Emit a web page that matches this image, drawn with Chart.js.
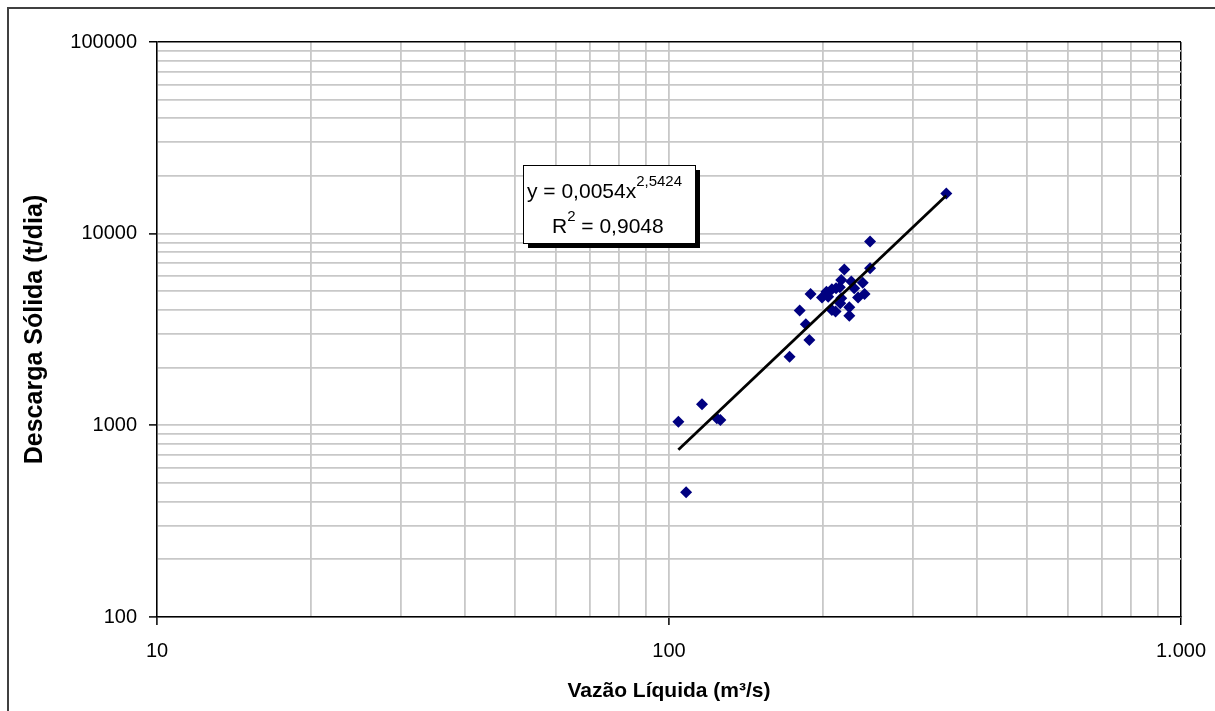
<!DOCTYPE html>
<html><head><meta charset="utf-8">
<script src="https://cdn.jsdelivr.net/npm/chart.js@4.4.1/dist/chart.umd.min.js"></script>
<style>html,body{margin:0;padding:0;background:#fff}canvas{display:block}</style>
</head><body>
<canvas id="c" width="1215" height="711"></canvas>
<script>
// Observed data (Vazão Líquida m³/s vs Descarga Sólida t/dia)
const vazao = [348, 247, 247, 220, 217, 227, 239, 230, 208, 203, 189, 199, 212, 217, 234, 241, 216, 225, 208, 211.5, 225, 180, 185, 188, 172, 116, 124, 126, 104.3, 108, 215.6, 204.6];
const descarga = [16200, 9100, 6600, 6500, 5730, 5630, 5550, 5190, 5130, 4980, 4840, 4650, 5190, 4600, 4650, 4840, 4340, 4130, 4000, 3920, 3730, 3970, 3370, 2790, 2280, 1290, 1090, 1067, 1045, 448, 5250, 4690];
// Power trend line end points
const trendX = [104.3, 348];
const trendY = [745, 15800];
// Axis ticks
const xTicks = [10,20,30,40,50,60,70,80,90,100,200,300,400,500,600,700,800,900,1000];
const xMajor = [10,100,1000];
const xMajorLabels = ['10','100','1.000'];
const yTicks = [100,200,300,400,500,600,700,800,900,1000,2000,3000,4000,5000,6000,7000,8000,9000,10000,20000,30000,40000,50000,60000,70000,80000,90000,100000];
const yMajor = [100,1000,10000,100000];
const yMajorLabels = ['100','1000','10000','100000'];
// Trend equation label
const eqMain = 'y = 0,0054x';
const eqExp = '2,5424';
const r2Main = 'R';
const r2Exp = '2';
const r2Val = ' = 0,9048';
const xTitle = 'Vazão Líquida (m³/s)';
const yTitle = 'Descarga Sólida (t/dia)';

const FONT = 'Liberation Sans';
const GRID = '#c8c8c8';
const pts = vazao.map((x, i) => ({x, y: descarga[i]}));
const trend = trendX.map((x, i) => ({x, y: trendY[i]}));

const frame = {
  id: 'frame',
  beforeDraw(chart) {
    const ctx = chart.ctx;
    ctx.save();
    ctx.fillStyle = '#fff';
    ctx.fillRect(0, 0, chart.width, chart.height);
    ctx.strokeStyle = '#404040';
    ctx.lineWidth = 2;
    ctx.strokeRect(8, 8, chart.width + 10, chart.height + 10);
    ctx.restore();
  }
};

const eqBox = {
  id: 'eqBox',
  afterDatasetsDraw(chart) {
    const ctx = chart.ctx;
    const ca = chart.chartArea;
    const bx = ca.left + 366, by = ca.top + 123, bw = 172, bh = 78;
    ctx.save();
    ctx.fillStyle = '#000';
    ctx.fillRect(bx + 5, by + 5, bw, bh);
    ctx.fillStyle = '#fff';
    ctx.fillRect(bx, by, bw, bh);
    ctx.strokeStyle = '#000';
    ctx.lineWidth = 1;
    ctx.strokeRect(bx + 0.5, by + 0.5, bw, bh);
    ctx.fillStyle = '#000';
    ctx.textBaseline = 'alphabetic';
    ctx.textAlign = 'left';
    ctx.font = '21px ' + FONT;
    let x = bx + 4;
    ctx.fillText(eqMain, x, by + 33);
    x += ctx.measureText(eqMain).width;
    ctx.font = '15px ' + FONT;
    ctx.fillText(eqExp, x, by + 21);
    ctx.font = '21px ' + FONT;
    let x2 = bx + 29;
    ctx.fillText(r2Main, x2, by + 68);
    x2 += ctx.measureText(r2Main).width;
    ctx.font = '15px ' + FONT;
    ctx.fillText(r2Exp, x2, by + 56);
    x2 += ctx.measureText(r2Exp).width;
    ctx.font = '21px ' + FONT;
    ctx.fillText(r2Val, x2, by + 68);
    ctx.restore();
  }
};

new Chart(document.getElementById('c'), {
  type: 'scatter',
  data: {
    datasets: [
      {
        label: 'Dados',
        data: pts,
        pointStyle: 'rectRot',
        pointRadius: 6,
        backgroundColor: '#000080',
        borderColor: '#000080',
        borderWidth: 0,
        order: 1
      },
      {
        label: 'Tendência',
        data: trend,
        showLine: true,
        borderColor: '#000',
        borderWidth: 2.8,
        pointRadius: 0,
        fill: false,
        order: 0
      }
    ]
  },
  options: {
    responsive: false,
    animation: false,
    devicePixelRatio: 1,
    layout: { padding: { top: 42, right: 34, left: 0, bottom: 0 } },
    plugins: { legend: { display: false }, tooltip: { enabled: false } },
    scales: {
      x: {
        type: 'logarithmic',
        min: 10, max: 1000,
        afterBuildTicks: s => { s.ticks = xTicks.map(v => ({value: v})); },
        afterFit: s => { s.height = 94; s.paddingLeft = 0; s.paddingRight = 0; },
        border: { color: '#000', width: 1.5 },
        grid: {
          color: c => (c.tick && c.tick.value === 1000) ? '#000' : GRID,
          lineWidth: c => (c.tick && c.tick.value === 1000) ? 1.5 : 1.8,
          tickColor: c => (c.tick && xMajor.includes(c.tick.value)) ? '#000' : 'rgba(0,0,0,0)',
          tickLength: 8,
          tickWidth: 1.5
        },
        ticks: {
          autoSkip: false, maxRotation: 0, padding: 14, color: '#000',
          font: { family: FONT, size: 20 },
          callback: v => { const i = xMajor.indexOf(v); return i >= 0 ? xMajorLabels[i] : ''; }
        },
        title: {
          display: true, text: xTitle, color: '#000',
          font: { family: FONT, size: 21, weight: 'bold' },
          padding: { top: 0, bottom: 7 }
        }
      },
      y: {
        type: 'logarithmic',
        min: 100, max: 100000,
        afterBuildTicks: s => { s.ticks = yTicks.map(v => ({value: v})); },
        afterFit: s => { s.width = 157; s.paddingTop = 0; s.paddingBottom = 0; },
        border: { color: '#000', width: 1.5 },
        grid: {
          color: c => (c.tick && c.tick.value === 100000) ? '#000' : GRID,
          lineWidth: c => (c.tick && c.tick.value === 100000) ? 1.5 : 1.8,
          tickColor: c => (c.tick && yMajor.includes(c.tick.value)) ? '#000' : 'rgba(0,0,0,0)',
          tickLength: 8,
          tickWidth: 1.5
        },
        ticks: {
          autoSkip: false, padding: 12, color: '#000',
          font: { family: FONT, size: 20 },
          callback: v => { const i = yMajor.indexOf(v); return i >= 0 ? yMajorLabels[i] : ''; }
        },
        title: {
          display: true, text: yTitle, color: '#000',
          font: { family: FONT, size: 25, weight: 'bold' },
          padding: { top: 20, bottom: 0 }
        }
      }
    }
  },
  plugins: [frame, eqBox]
});
</script>
</body></html>
